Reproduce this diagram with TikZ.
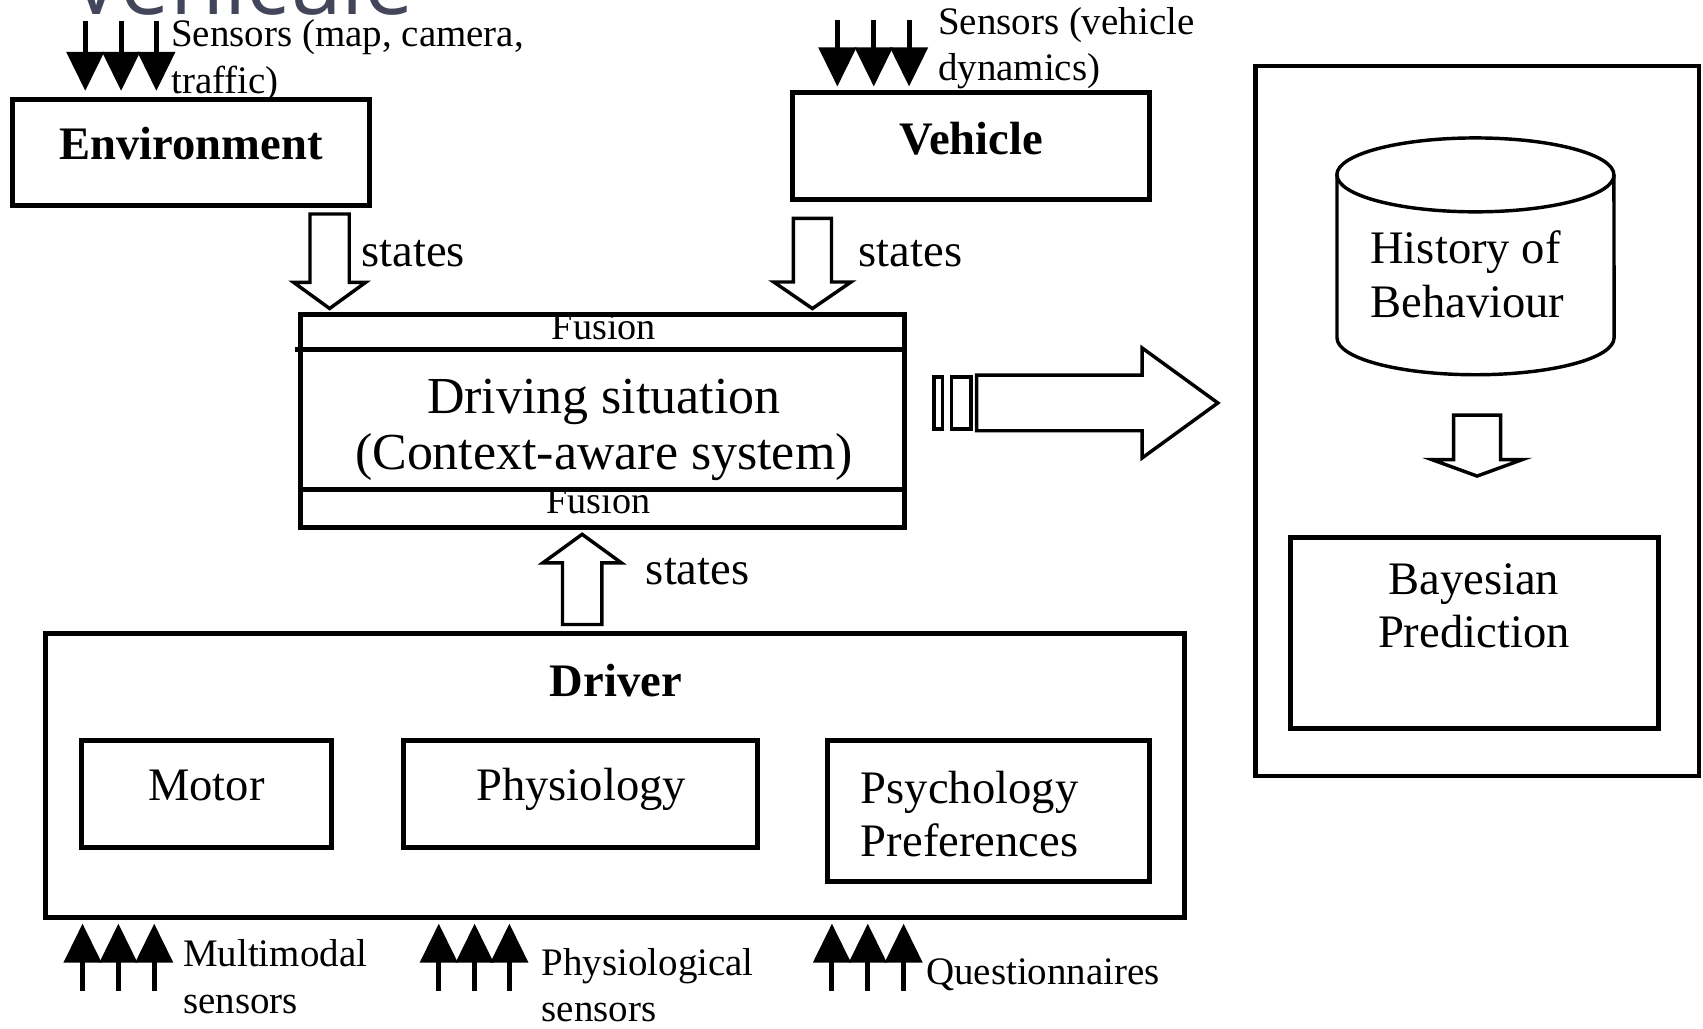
\documentclass[tikz,border=0pt]{standalone}
\usepackage{fontspec}
\setmainfont{Liberation Serif}
\newfontfamily\titlefont{Open Sans}
\usepackage{xcolor}
\usepackage{tikz}
\usetikzlibrary{arrows.meta, positioning, calc, shapes.arrows}
\definecolor{ktitle}{HTML}{43455A}

\begin{document}
\begin{tikzpicture}[x=0.01cm, y=-0.01cm,
  blk/.style={draw, line width=1.3pt, inner sep=0pt},
  lbltxt/.style={inner sep=0pt, font=\fontsize{12.2}{13.9}\selectfont},
  boldtxt/.style={inner sep=0pt, font=\fontsize{12.2}{13.9}\selectfont\bfseries},
  sensortxt/.style={inner sep=0pt, align=left, font=\fontsize{10.2}{12.2}\selectfont},
  sensorarr/.style={line width=1.3pt, -{Triangle[width=0.34cm, length=0.36cm]}},
  fatarrow/.style={draw, single arrow, single arrow head indent=0pt, line width=0.9pt,
    inner sep=0pt, anchor=tip}]
\useasboundingbox (0,0) rectangle (1568,947);
\clip (0,0) rectangle (1568,947);

\node[inner sep=0pt, anchor=base west, font=\titlefont\fontsize{23}{23}\selectfont, text=ktitle]
  (slidetitle) at (64,13) {Vehicule};

\node[blk, minimum width=3.28cm, minimum height=0.97cm] (env) at (176,140.5) {};
\node[boldtxt, anchor=base] (envname) at (176,147) {Environment};
\node[blk, minimum width=3.28cm, minimum height=0.99cm] (veh) at (894,134.5) {};
\node[boldtxt, anchor=base] (vehname) at (894.5,142) {Vehicle};

\foreach \xx [count=\i] in {78.5,111.5,144} {
  \coordinate (es\i) at (\xx,19);
  \draw[sensorarr] (es\i) -- ([yshift=0.06cm]es\i |- env.north);
}
\node[sensortxt, anchor=south west] (envsens) at (157,94) {Sensors (map, camera,\\traffic)};
\foreach \xx [count=\i] in {771,804.5,837} {
  \coordinate (vs\i) at (\xx,18);
  \draw[sensorarr] (vs\i) -- ([yshift=0.03cm]vs\i |- veh.north);
}
\node[sensortxt, anchor=south west] (vehsens) at (863,83) {Sensors (vehicle\\dynamics)};

\node[fatarrow, rotate=-90, minimum height=0.87cm, inner ysep=0.165cm,
  single arrow head extend=0.15cm, single arrow tip angle=108] (envstate) at (303.5,286) {};
\node[lbltxt, anchor=base west] (envstatetxt) at (332,245) {states};
\node[fatarrow, rotate=-90, minimum height=0.83cm, inner ysep=0.16cm,
  single arrow head extend=0.18cm, single arrow tip angle=111] (vehstate) at (748,286) {};
\node[lbltxt, anchor=base west] (vehstatetxt) at (790,245) {states};

\node[inner sep=0pt, anchor=base, font=\fontsize{10}{12}\selectfont] (fustop) at (556,313) {Fusion};
\node[inner sep=0pt, anchor=base, font=\fontsize{10}{12}\selectfont] (fusbot) at (551,473) {Fusion};
\node[inner sep=0pt, anchor=south, align=center, font=\fontsize{13.6}{14.7}\selectfont]
  (sittxt) at (556,443) {Driving situation\\(Context-aware system)};
\node[blk, minimum width=5.56cm, minimum height=1.96cm] (sit) at (555,388) {};
\coordinate (ftop) at (272,322);
\coordinate (fbot) at (277,451);
\draw[line width=1.3pt] (ftop) -- (ftop -| sit.east);
\draw[line width=1.3pt] (fbot) -- (fbot -| sit.east);

\node[fatarrow, rotate=90, minimum height=0.83cm, inner ysep=0.165cm,
  single arrow head extend=0.18cm, single arrow tip angle=108] (drvstate) at (536,490) {};
\node[lbltxt, anchor=base west] (drvstatetxt) at (594,538) {states};

\node[blk, minimum width=10.48cm, minimum height=2.62cm] (drv) at (566,714) {};
\node[boldtxt, anchor=base] (drvname) at (567,641) {Driver};
\node[blk, minimum width=2.30cm, minimum height=0.98cm] (motor) at (190,731) {};
\node[lbltxt, anchor=base] (motortxt) at (190,737) {Motor};
\node[blk, minimum width=3.25cm, minimum height=0.98cm] (physio) at (534.5,731) {};
\node[lbltxt, anchor=base] (physiotxt) at (535,737) {Physiology};
\node[blk, minimum width=2.96cm, minimum height=1.30cm] (psycho) at (910,747) {};
\node[lbltxt, anchor=south west, align=left] (psychotxt) at (792,790) {Psychology\\Preferences};

\foreach \xx [count=\i] in {76,109,142} {
  \coordinate (ms\i) at (\xx,912);
  \draw[sensorarr] (ms\i) -- ([yshift=-0.03cm]ms\i |- drv.south);
}
\node[sensortxt, anchor=south west] (multitxt) at (168,934) {Multimodal\\sensors};
\foreach \xx [count=\i] in {404,437,469} {
  \coordinate (ps\i) at (\xx,912);
  \draw[sensorarr] (ps\i) -- ([yshift=-0.03cm]ps\i |- drv.south);
}
\node[sensortxt, anchor=south west] (physsenstxt) at (498,942) {Physiological\\sensors};
\foreach \xx [count=\i] in {766,799,832} {
  \coordinate (qs\i) at (\xx,912);
  \draw[sensorarr] (qs\i) -- ([yshift=-0.03cm]qs\i |- drv.south);
}
\node[sensortxt, anchor=base west] (questtxt) at (852,906) {Questionnaires};

\draw[line width=0.9pt] (860,347) rectangle (868,395);
\draw[line width=0.9pt] (876,347) rectangle (894,395);
\node[fatarrow, minimum height=2.22cm, inner ysep=0.24cm,
  single arrow head extend=0.25cm, single arrow tip angle=72] (toprofile) at (1124,371) {};

\node[blk, line width=1.1pt, minimum width=4.08cm, minimum height=6.53cm] (pred) at (1360,387.5) {};
\draw[line width=0.9pt] (1231,161) -- (1231,311)
  arc[start angle=180, end angle=360, x radius=1.275cm, y radius=0.34cm] -- (1486,161)
  arc[start angle=0, end angle=180, x radius=1.275cm, y radius=0.34cm];
\draw[line width=0.9pt] (1231,161) arc[start angle=180, end angle=360, x radius=1.275cm, y radius=0.34cm];
\node[lbltxt, anchor=south west, align=left] (histtxt) at (1261,293) {History of\\Behaviour};
\node[fatarrow, rotate=-90, minimum height=0.56cm, inner ysep=0.2cm,
  single arrow head extend=0.2cm, single arrow tip angle=140] (histbay) at (1360,440) {};
\node[blk, minimum width=3.39cm, minimum height=1.76cm] (bay) at (1357.5,583) {};
\node[lbltxt, anchor=south, align=center] (baytxt) at (1357,597) {Bayesian\\Prediction};
\end{tikzpicture}
\end{document}
